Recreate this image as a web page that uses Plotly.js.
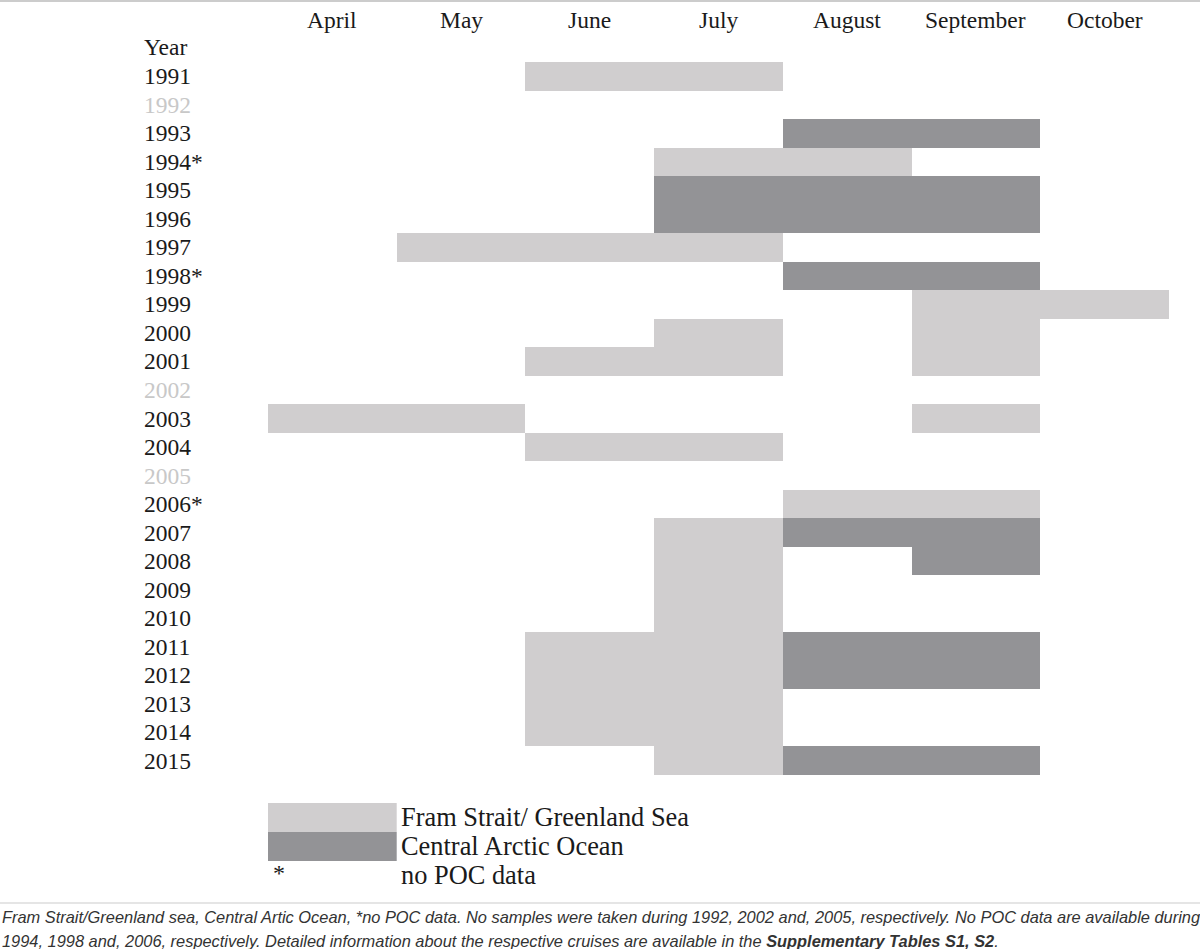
<!DOCTYPE html>
<html>
<head>
<meta charset="utf-8">
<script src="https://cdn.plot.ly/plotly-3.0.1.min.js"></script>
<style>html,body{margin:0;padding:0;background:#fff;}#chart{width:1200px;height:949px;}</style>
</head>
<body>
<div id="chart"></div>
<script>
// ---- data ----
const months = ['April','May','June','July','August','September','October'];
const years = ['1991','1992','1993','1994','1995','1996','1997','1998','1999','2000','2001','2002','2003','2004','2005','2006','2007','2008','2009','2010','2011','2012','2013','2014','2015'];
const yearLabels = ['1991','1992','1993','1994*','1995','1996','1997','1998*','1999','2000','2001','2002','2003','2004','2005','2006*','2007','2008','2009','2010','2011','2012','2013','2014','2015'];
const noSampleYears = ['1992','2002','2005'];

// Fram Strait / Greenland Sea cruises (light)
const framYear  = ['1991','1994','1997','1999','2000','2000','2001','2001','2003','2003','2004','2006','2007','2008','2009','2010','2011','2012','2013','2014','2015'];
const framStart = ['June','July','May','September','July','September','June','September','April','September','June','August','July','July','July','July','June','June','June','June','July'];
const framEnd   = ['July','August','July','October','July','September','July','September','May','September','July','September','July','July','July','July','July','July','July','July','July'];

// Central Arctic Ocean cruises (dark)
const centralYear  = ['1993','1995','1996','1998','2007','2008','2011','2012','2015'];
const centralStart = ['August','July','July','August','August','September','August','August','August'];
const centralEnd   = ['September','September','September','September','September','September','September','September','September'];

const legendLabels = ['Fram Strait/ Greenland Sea','Central Arctic Ocean','no POC data'];
const captionLine1 = 'Fram Strait/Greenland sea, Central Artic Ocean, *no POC data. No samples were taken during 1992, 2002 and, 2005, respectively. No POC data are available during';
const captionLine2 = '1994, 1998 and, 2006, respectively. Detailed information about the respective cruises are available in the <b>Supplementary Tables S1, S2</b>.';

// ---- styling / geometry ----
const LIGHT = '#d0cecf';
const DARK = '#939396';
const L = 268, R = 1169, T = 62, B = 775;
const W = 1200, H = 949;
const px = x => (x - L) / (R - L);
const py = y => (B - y) / (B - T);
const serif = 'Liberation Serif, Times New Roman, serif';
const TXT = '#1a1a1a';

function segTrace(ys, starts, ends, color, name) {
  const base = starts.map(s => months.indexOf(s));
  const len = ends.map((e, i) => months.indexOf(e) - base[i] + 1);
  return {
    type: 'bar', orientation: 'h', name: name,
    y: ys, x: len, base: base, width: 1,
    marker: {color: color, line: {width: 0}},
    hoverinfo: 'skip', showlegend: false
  };
}

const traces = [
  segTrace(framYear, framStart, framEnd, LIGHT, legendLabels[0]),
  segTrace(centralYear, centralStart, centralEnd, DARK, legendLabels[1])
];

const annotations = [];
months.forEach((m, i) => annotations.push({
  x: i + 0.5, xref: 'x', y: py(20), yref: 'paper', text: m, showarrow: false,
  xanchor: 'center', yanchor: 'middle', font: {family: serif, size: 23.5, color: TXT}
}));
annotations.push({
  x: px(142), xref: 'paper', y: py(47), yref: 'paper', text: 'Year', showarrow: false,
  xanchor: 'left', yanchor: 'middle', font: {family: serif, size: 23.5, color: TXT}
});
years.forEach((yr, i) => annotations.push({
  x: px(142), xref: 'paper', y: i, yref: 'y', text: yearLabels[i], showarrow: false,
  xanchor: 'left', yanchor: 'middle',
  font: {family: serif, size: 23.5, color: noSampleYears.includes(yr) ? '#c8c8c8' : TXT}
}));
// legend labels
[817, 846, 875].forEach((yy, i) => annotations.push({
  x: px(399), xref: 'paper', y: py(yy), yref: 'paper', text: legendLabels[i], showarrow: false,
  xanchor: 'left', yanchor: 'middle', font: {family: serif, size: 26.4, color: TXT}
}));
annotations.push({
  x: px(271), xref: 'paper', y: py(873), yref: 'paper', text: '*', showarrow: false,
  xanchor: 'left', yanchor: 'middle', font: {family: serif, size: 24, color: TXT}
});
// caption
[captionLine1, captionLine2].forEach((t, i) => annotations.push({
  x: px(0), xref: 'paper', y: py(917 + i * 24), yref: 'paper', text: '<i>' + t + '</i>', showarrow: false,
  xanchor: 'left', yanchor: 'middle', font: {family: 'Liberation Sans, Arial, sans-serif', size: 16.4, color: '#333333'}
}));

const shapes = [
  {type: 'rect', xref: 'x', yref: 'paper', x0: 0, x1: 1, y0: py(832), y1: py(803), fillcolor: LIGHT, line: {width: 0}},
  {type: 'rect', xref: 'x', yref: 'paper', x0: 0, x1: 1, y0: py(861), y1: py(832), fillcolor: DARK, line: {width: 0}},
  {type: 'line', xref: 'paper', yref: 'paper', x0: px(0), x1: px(W), y0: py(1), y1: py(1), line: {color: '#cccccc', width: 2}},
  {type: 'line', xref: 'paper', yref: 'paper', x0: px(0), x1: px(W), y0: py(903), y1: py(903), line: {color: '#dddddd', width: 1.5}}
];

const layout = {
  width: W, height: H,
  margin: {l: L, r: W - R, t: T, b: H - B, pad: 0},
  paper_bgcolor: '#ffffff', plot_bgcolor: '#ffffff',
  barmode: 'overlay', bargap: 0,
  xaxis: {range: [0, months.length], visible: false, fixedrange: true},
  yaxis: {type: 'category', categoryorder: 'array', categoryarray: years,
          range: [years.length - 0.5, -0.5], visible: false, fixedrange: true},
  annotations: annotations, shapes: shapes, showlegend: false
};

Plotly.newPlot('chart', traces, layout, {displayModeBar: false, staticPlot: true});
</script>
</body>
</html>
